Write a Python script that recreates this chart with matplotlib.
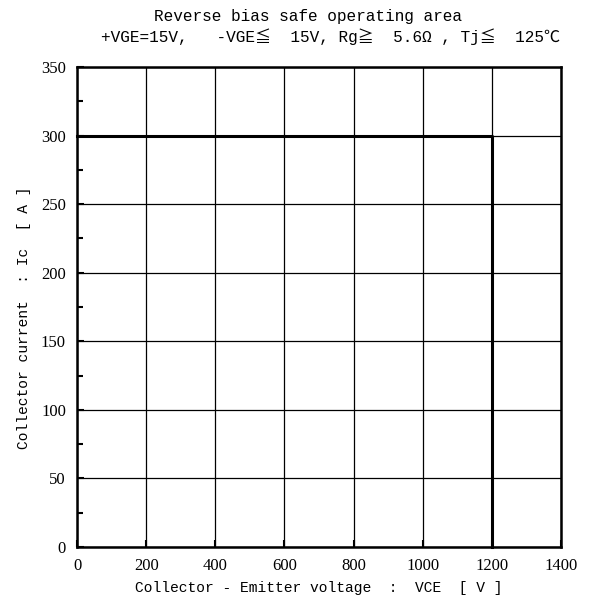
import matplotlib
matplotlib.use("Agg")
import matplotlib.pyplot as plt
from matplotlib.ticker import MultipleLocator

plt.rcParams['font.family'] = ['Liberation Mono', 'Noto Sans CJK JP', 'DejaVu Sans']

# SOA boundary (VCE [V], Ic [A])
boundary_v = [0, 1200, 1200]
boundary_i = [300, 300, 0]

x_ticks = [0, 200, 400, 600, 800, 1000, 1200, 1400]
y_ticks = [0, 50, 100, 150, 200, 250, 300, 350]

title1 = "Reverse bias safe operating area"
title2 = "+VGE=15V,   -VGE≦  15V, Rg≧  5.6Ω , Tj≦  125℃"
xlabel = "Collector - Emitter voltage  :  VCE  [ V ]"
ylabel = "Collector current  : Ic  [ A ]"

fig = plt.figure(figsize=(5.89, 6.0), dpi=100)
ax = fig.add_axes([77/589, 53/600, 484/589, 480/600])

ax.set_xlim(0, 1400)
ax.set_ylim(0, 350)
ax.set_xticks(x_ticks)
ax.set_yticks(y_ticks)
ax.yaxis.set_minor_locator(MultipleLocator(25))
ax.grid(True, which='major', color='black', linewidth=0.9)
ax.tick_params(which='both', direction='in', labelsize=12, width=1.5)
ax.tick_params(which='major', length=5, pad=8)
ax.tick_params(which='minor', length=4)
for lab in ax.get_xticklabels() + ax.get_yticklabels():
    lab.set_family(['Liberation Serif'])
for s in ax.spines.values():
    s.set_linewidth(1.8)

ax.plot(boundary_v, boundary_i, color='black', linewidth=2.2, clip_on=False)

ax.set_xlabel(xlabel, fontsize=10.5, labelpad=5)
ax.set_ylabel(ylabel, fontsize=10.5)
ax.yaxis.set_label_coords(-0.095, (600 - 318 - 53) / 480)
fig.text(308.5 / 589, 1 - 17 / 600, title1, ha='center', va='center', fontsize=11.6)
fig.text(331 / 589, 1 - 37 / 600, title2, ha='center', va='center', fontsize=11.6)

fig.savefig("out.png", dpi=100)
